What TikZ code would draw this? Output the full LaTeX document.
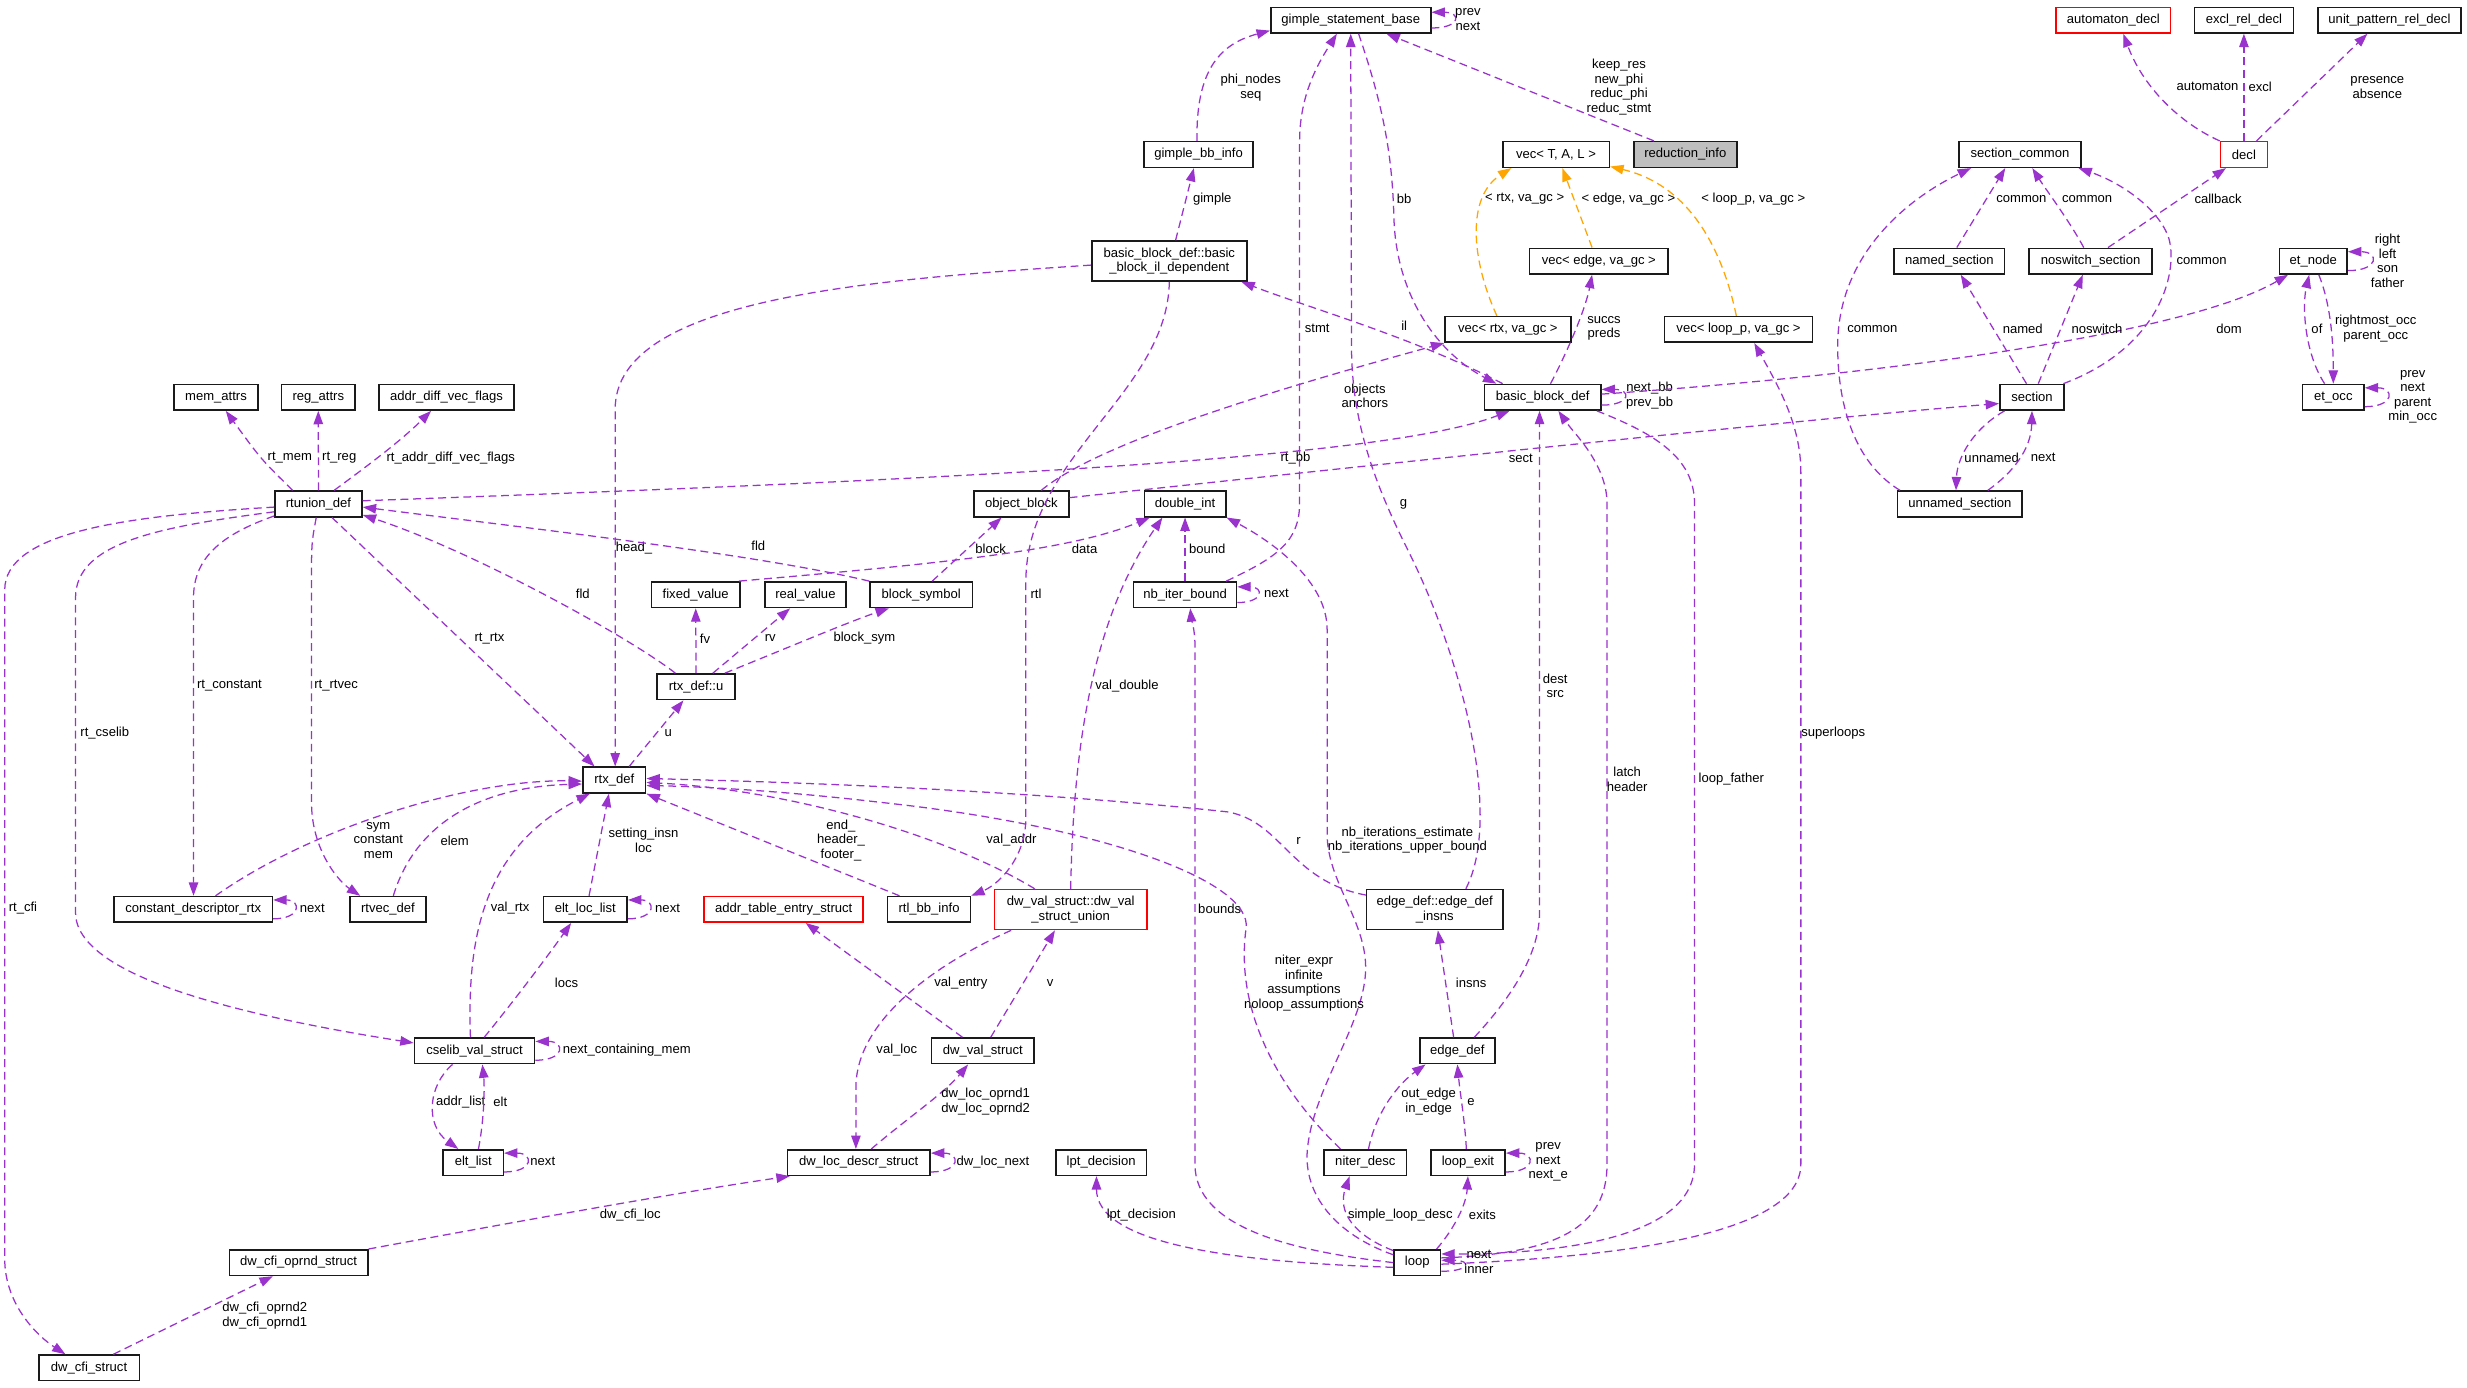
\documentclass[tikz,border=0pt]{standalone}
\usepackage{fontspec}
\setmainfont{Liberation Sans}
\usetikzlibrary{arrows.meta,calc}
\definecolor{epurple}{HTML}{9A32CD}
\definecolor{eorange}{HTML}{FFA500}
\definecolor{grayfill}{HTML}{BFBFBF}
\definecolor{boxedge}{HTML}{1A1A1A}
\begin{document}
\begin{tikzpicture}[x=1pt,y=-1pt,
 cls/.style={draw=boxedge,line width=1pt,fill=white,minimum height=16.3pt,inner sep=0pt,align=center,font=\fontsize{8.3}{9.3}\selectfont},
 cls2/.style={cls,minimum height=25.4pt},
 redbox/.style={draw=red},
 lab/.style={inner sep=0pt,align=center,font=\fontsize{8.3}{9.3}\selectfont},
 e/.style={draw=epurple,line width=0.8pt,dash pattern=on 5pt off 3pt,-{Triangle[length=8.5pt,width=6pt]}},
 eo/.style={e,draw=eorange},
]
\fill[white] (0,0) rectangle (1568,882);
\useasboundingbox (0,0) rectangle (1568,882);

% ---------- nodes ----------
\node[cls,minimum width=101.7pt] (gsb) at (858.5,12.8) {gimple\_statement\_base};
\node[cls,minimum width=69.4pt] (gbb) at (761.8,98.2) {gimple\_bb\_info};
\node[cls2,minimum width=98.6pt] (ild) at (743.2,165.9) {basic\_block\_def::basic\\\_block\_il\_dependent};
\node[cls,minimum width=67.8pt] (vecT) at (989,98.2) {vec< T, A, L >};
\node[cls,minimum width=65.3pt,fill=grayfill] (red) at (1071.2,98.2) {reduction\_info};
\node[cls,minimum width=87.9pt] (vecE) at (1016.2,166) {vec< edge, va\_gc >};
\node[cls,minimum width=79.9pt] (vecR) at (958.4,209.4) {vec< rtx, va\_gc >};
\node[cls,minimum width=94.2pt] (vecL) at (1105,209.4) {vec< loop\_p, va\_gc >};
\node[cls,minimum width=73.9pt] (bbd) at (980.5,252.5) {basic\_block\_def};
\node[cls,redbox,minimum width=72.9pt] (autd) at (1343.2,12.8) {automaton\_decl};
\node[cls,minimum width=62.8pt] (excl) at (1426.2,12.8) {excl\_rel\_decl};
\node[cls,minimum width=90.8pt] (unit) at (1518.7,12.8) {unit\_pattern\_rel\_decl};
\node[cls,minimum width=77.3pt] (secc) at (1283.9,98.2) {section\_common};
\node[cls,redbox,minimum width=29.8pt] (decl) at (1426.2,98.2) {decl};
\node[cls,minimum width=70.1pt] (nsec) at (1239,166) {named\_section};
\node[cls,minimum width=78.1pt] (nsw) at (1328.8,166) {noswitch\_section};
\node[cls,minimum width=43.1pt] (etn) at (1470.3,166) {et\_node};
\node[cls,minimum width=40.9pt] (sec) at (1291.5,252.5) {section};
\node[cls,minimum width=39.1pt] (eto) at (1483,252.5) {et\_occ};
\node[cls,minimum width=53.3pt] (mem) at (137.3,252.5) {mem\_attrs};
\node[cls,minimum width=46.8pt] (reg) at (202.3,252.5) {reg\_attrs};
\node[cls,minimum width=85.9pt] (adf) at (283.8,252.5) {addr\_diff\_vec\_flags};
\node[cls,minimum width=55.3pt] (rtu) at (202.4,320.3) {rtunion\_def};
\node[cls,minimum width=60.3pt] (objb) at (649.2,320.3) {object\_block};
\node[cls,minimum width=51.8pt] (dint) at (753.2,320.3) {double\_int};
\node[cls,minimum width=79.2pt] (unsec) at (1245.7,320.3) {unnamed\_section};
\node[cls,minimum width=56pt] (fixv) at (442.2,378) {fixed\_value};
\node[cls,minimum width=51.5pt] (realv) at (511.9,378) {real\_value};
\node[cls,minimum width=65.1pt] (bsym) at (585.5,378) {block\_symbol};
\node[cls,minimum width=65.4pt] (nbib) at (753.2,378) {nb\_iter\_bound};
\node[cls,minimum width=49.3pt] (rtxu) at (442.4,436.5) {rtx\_def::u};
\node[cls,minimum width=40pt] (rtx) at (390.4,495.8) {rtx\_def};
\node[cls,minimum width=100.7pt] (cdr) at (122.8,578) {constant\_descriptor\_rtx};
\node[cls,minimum width=48.3pt] (rtv) at (246.6,578) {rtvec\_def};
\node[cls,minimum width=53.3pt] (ell) at (372,578) {elt\_loc\_list};
\node[cls,redbox,minimum width=101pt] (ates) at (498.1,578) {addr\_table\_entry\_struct};
\node[cls,minimum width=52.6pt] (rtlbb) at (590.5,578) {rtl\_bb\_info};
\node[cls2,redbox,minimum width=96.7pt] (dvu) at (680.5,578.1) {dw\_val\_struct::dw\_val\\\_struct\_union};
\node[cls2,minimum width=86.5pt] (edi) at (911.9,578.1) {edge\_def::edge\_def\\\_insns};
\node[cls,minimum width=76.4pt] (csv) at (301.6,667.9) {cselib\_val\_struct};
\node[cls,minimum width=65.1pt] (dvs) at (624.7,667.9) {dw\_val\_struct};
\node[cls,minimum width=47.5pt] (edge) at (926.3,667.9) {edge\_def};
\node[cls,minimum width=38.2pt] (eltl) at (300.8,738.9) {elt\_list};
\node[cls,minimum width=90.7pt] (dlds) at (545.8,738.9) {dw\_loc\_descr\_struct};
\node[cls,minimum width=57.8pt] (lpt) at (699.9,738.9) {lpt\_decision};
\node[cls,minimum width=52.5pt] (nid) at (867.8,738.9) {niter\_desc};
\node[cls,minimum width=47.3pt] (lex) at (933,738.9) {loop\_exit};
\node[cls,minimum width=87.9pt] (cfio) at (189.8,802.5) {dw\_cfi\_oprnd\_struct};
\node[cls,minimum width=29.6pt] (loop) at (900.8,802.5) {loop};
\node[cls,minimum width=63.9pt] (cfis) at (56.6,869.4) {dw\_cfi\_struct};

% ---------- edges ----------
% top area
\draw[e] ($(gsb.east)+(0,5)$) .. controls +(19,0) and +(19,0) .. ($(gsb.east)+(0,-5)$);
\node[lab] (L1) at (933,12.4) {prev\\next};
\draw[e] ($(gbb.north)+(-1,0)$) .. controls (760,45) and (775,28) .. ($(gsb.south west)+(0,-2)$);
\node[lab] (L2) at (795,55.6) {phi\_nodes\\seq};
\draw[e] ($(ild.north)+(4,0)$) -- ($(gbb.south)+(-3,0)$);
\node[lab] (L3) at (770.5,126.5) {gimple};
\draw[e] ($(red.north)+(-20,0)$) -- ($(gsb.south)+(22.7,0)$);
\node[lab] (L4) at (1029,55.3) {keep\_res\\new\_phi\\reduc\_phi\\reduc\_stmt};
\draw[eo] ($(vecR.north)+(-7,0)$) .. controls (935,165) and (932,125) .. ($(vecT.south west)+(6,0)$);
\node[lab] (L5) at (969,126.5) {< rtx, va\_gc >};
\draw[eo] ($(vecE.north)+(-4.3,0)$) -- ($(vecT.south)+(4,0)$);
\node[lab] (L6) at (1035,126.5) {< edge, va\_gc >};
\draw[eo] ($(vecL.north)+(-1.4,0)$) .. controls (1095,160) and (1075,118) .. ($(vecT.south east)+(0,-1)$);
\node[lab] (L7) at (1114.4,126.5) {< loop\_p, va\_gc >};
\draw[e] ($(bbd.north)+(5,0)$) .. controls (998,220) and (1008,195) .. ($(vecE.south)+(-4.3,0)$);
\node[lab] (L8) at (1019.5,208.8) {succs\\preds};
\draw[e] ($(bbd.east)+(0,5)$) .. controls +(19,0) and +(19,0) .. ($(bbd.east)+(0,-5)$);
\node[lab] (L9) at (1048.5,251.6) {next\_bb\\prev\_bb};
\draw[e] ($(gsb.south)+(5,0)$) .. controls (880,70) and (885,100) .. (886,140) .. controls (888,190) and (915,225) .. ($(bbd.north west)+(8,0)$);
\node[lab] (L10) at (892.5,126.5) {bb};
\draw[e] ($(bbd.north west)+(12,0)$) .. controls (900,215) and (830,195) .. ($(ild.south east)+(-4,0)$);
\node[lab] (L11) at (892.5,207) {il};
\draw[e] ($(rtu.east)+(0,-2)$) .. controls (600,305) and (880,292) .. ($(bbd.south)+(-21,0)$);
\node[lab] (L12) at (823.4,291.4) {rt\_bb};
\draw[e] ($(objb.east)+(0,-4)$) .. controls (850,298) and (1150,266) .. ($(sec.west)+(0,4)$);
\node[lab] (L13) at (966.6,291.4) {sect};
\draw[e] ($(bbd.east)+(0,-2)$) .. controls (1200,238) and (1390,212) .. ($(etn.south west)+(6,0)$);
\node[lab] (L14) at (1416.7,209.1) {dom};

% right area
\draw[e] ($(unsec.north west)+(2,0)$) .. controls (1180,295) and (1168,260) .. (1168,220) .. controls (1168,160) and (1215,125) .. ($(secc.south west)+(8,0)$);
\node[lab] (L15) at (1190,209.1) {common};
\draw[e] ($(nsec.north)+(4.7,0)$) -- ($(secc.south)+(-9.4,0)$);
\node[lab] (L16) at (1284.8,126.5) {common};
\draw[e] ($(nsw.north)+(-4.4,0)$) .. controls (1315,140) and (1300,120) .. ($(secc.south)+(7.8,0)$);
\node[lab] (L17) at (1326.6,126.5) {common};
\draw[e] ($(sec.north east)+(-1,0)$) .. controls (1375,220) and (1385,170) .. (1378,150) .. controls (1370,130) and (1345,115) .. ($(secc.south east)+(-2,0)$);
\node[lab] (L18) at (1399.3,166) {common};
\draw[e] ($(nsw.north)+(11,0)$) -- ($(decl.south)+(-11.4,0)$);
\node[lab] (L19) at (1409.8,126.5) {callback};
\draw[e] (decl.north west) .. controls (1385,78) and (1362,55) .. ($(autd.south)+(6.3,0)$);
\node[lab] (L20) at (1403,55.1) {automaton};
\draw[e] (decl.north) -- (excl.south);
\node[lab] (L21) at (1436.5,55.1) {excl};
\draw[e] ($(decl.north)+(8,0)$) -- ($(unit.south)+(-14,0)$);
\node[lab] (L22) at (1511,55.6) {presence\\absence};
\draw[e] ($(sec.north)+(-3.5,0)$) -- ($(nsec.south)+(7.2,0)$);
\node[lab] (L23) at (1285.6,209.1) {named};
\draw[e] ($(sec.north)+(4,0)$) -- ($(nsw.south)+(-5,0)$);
\node[lab] (L24) at (1332.8,209.1) {noswitch};
\draw[e] ($(sec.south west)+(3.5,0)$) .. controls (1255,272) and (1244,290) .. ($(unsec.north)+(-2.5,0)$);
\node[lab] (L25) at (1265.9,290.9) {unnamed};
\draw[e] ($(unsec.north)+(17.7,0)$) .. controls (1280,300) and (1291,285) .. (sec.south);
\node[lab] (L26) at (1298.6,290.9) {next};
\draw[e] ($(etn.east)+(0,6)$) .. controls +(20,0) and +(20,0) .. ($(etn.east)+(0,-6)$);
\node[lab] (L27) at (1517.5,165.7) {right\\left\\son\\father};
\draw[e] ($(eto.north)+(-5.5,0)$) .. controls (1465,225) and (1463,195) .. ($(etn.south)+(-2.6,0)$);
\node[lab] (L28) at (1472.6,209.1) {of};
\draw[e] ($(etn.south)+(3.5,0)$) .. controls (1482,195) and (1483,220) .. (eto.north);
\node[lab] (L29) at (1510,208.8) {rightmost\_occ\\parent\_occ};
\draw[e] ($(eto.east)+(0,6)$) .. controls +(19,0) and +(19,0) .. ($(eto.east)+(0,-6)$);
\node[lab] (L30) at (1533.5,252.2) {prev\\next\\parent\\min\_occ};

% left area
\draw[e] ($(rtu.north)+(-16.4,0)$) .. controls (166,292) .. ($(mem.south)+(6.2,0)$);
\node[lab] (L31) at (184.2,290.9) {rt\_mem};
\draw[e] (rtu.north) -- (reg.south);
\node[lab] (L32) at (215.6,290.9) {rt\_reg};
\draw[e] ($(rtu.north)+(10,0)$) .. controls (235,295) and (255,280) .. ($(adf.south)+(-9.8,0)$);
\node[lab] (L33) at (286.5,290.9) {rt\_addr\_diff\_vec\_flags};
\draw[e] ($(rtu.south)+(8.6,0)$) -- ($(rtx.north west)+(8,0)$);
\node[lab] (L34) at (311.1,405.8) {rt\_rtx};
\draw[e] ($(rtu.south west)+(0,-1)$) .. controls (140,340) and (123,355) .. (123,380) -- ($(cdr.north)+(0.2,0)$);
\node[lab] (L35) at (145.8,435.9) {rt\_constant};
\draw[e] ($(rtu.south)+(-1.4,0)$) .. controls (198,345) .. (198,370) -- (198,510) .. controls (198,540) and (215,560) .. ($(rtv.north west)+(7,0)$);
\node[lab] (L36) at (213.6,435.9) {rt\_rtvec};
\draw[e] ($(rtu.west)+(0,5)$) .. controls (100,335) and (48,345) .. (48,380) -- (48,580) .. controls (48,620) and (150,645) .. ($(csv.west)+(0,-5)$);
\node[lab] (L37) at (66.6,465.8) {rt\_cselib};
\draw[e] ($(rtu.west)+(0,2)$) .. controls (80,328) and (3,338) .. (3,375) -- (3,800) .. controls (3,830) and (25,850) .. ($(cfis.north)+(-15,0)$);
\node[lab] (L38) at (14.6,577.4) {rt\_cfi};
\draw[e] ($(cdr.east)+(0,6)$) .. controls +(18,0) and +(18,0) .. ($(cdr.east)+(0,-6)$);
\node[lab] (L39) at (198.5,577.4) {next};
\draw[e] ($(cdr.north)+(14.2,0)$) .. controls (200,525) and (300,495) .. ($(rtx.west)+(0,0.7)$);
\node[lab] (L40) at (240.5,534.2) {sym\\constant\\mem};
\draw[e] ($(rtv.north)+(3.4,0)$) .. controls (265,520) and (310,500) .. ($(rtx.west)+(0,2.5)$);
\node[lab] (L41) at (289,534.4) {elem};
\draw[e] ($(csv.north)+(-2.6,0)$) .. controls (297,600) and (305,540) .. ($(rtx.south west)+(5,0)$);
\node[lab] (L42) at (324.2,577.4) {val\_rtx};
\draw[e] ($(ell.north)+(2.4,0)$) -- ($(rtx.south)+(-3.4,0)$);
\node[lab] (L43) at (409,534.2) {setting\_insn\\loc};
\draw[e] ($(ell.east)+(0,6)$) .. controls +(18,0) and +(18,0) .. ($(ell.east)+(0,-6)$);
\node[lab] (L44) at (424.3,577.4) {next};
\draw[e] ($(csv.north)+(6.2,0)$) .. controls (330,632) and (350,605) .. ($(ell.south)+(-9,0)$);
\node[lab] (L45) at (360.1,624.6) {locs};
\draw[e] ($(csv.east)+(0,6)$) .. controls +(19,0) and +(19,0) .. ($(csv.east)+(0,-6)$);
\node[lab] (L46) at (398.4,667.4) {next\_containing\_mem};
\draw[e] ($(csv.south)+(-14,0)$) .. controls (272,690) and (270,715) .. ($(eltl.north)+(-9.5,0)$);
\node[lab] (L47) at (292.8,700.2) {addr\_list};
\draw[e] ($(eltl.north)+(3.3,0)$) .. controls (308,710) and (308,690) .. ($(csv.south)+(5,0)$);
\node[lab] (L48) at (318,700.2) {elt};
\draw[e] ($(eltl.east)+(0,6)$) .. controls +(19,0) and +(19,0) .. ($(eltl.east)+(0,-6)$);
\node[lab] (L49) at (345,738.4) {next};
\draw[e] (cfio.north east) .. controls (320,778) and (430,758) .. ($(dlds.south west)+(2,0)$);
\node[lab] (L50) at (400.6,772.3) {dw\_cfi\_loc};
\draw[e] ($(cfis.north east)+(-17,0)$) -- ($(cfio.south)+(-16.4,0)$);
\node[lab] (L51) at (168.3,836) {dw\_cfi\_oprnd2\\dw\_cfi\_oprnd1};
\draw[e] ($(dlds.east)+(0,6)$) .. controls +(19,0) and +(19,0) .. ($(dlds.east)+(0,-6)$);
\node[lab] (L52) at (631.1,738.4) {dw\_loc\_next};
\draw[e] ($(dlds.north)+(8,0)$) .. controls (575,712) and (600,695) .. ($(dvs.south)+(-9.4,0)$);
\node[lab] (L53) at (626.5,700.2) {dw\_loc\_oprnd1\\dw\_loc\_oprnd2};
\draw[e] ($(dvu.south west)+(11,0)$) .. controls (590,615) and (545,650) .. (544,690) -- ($(dlds.north)+(-1.8,0)$);
\node[lab] (L54) at (570,667.4) {val\_loc};
\draw[e] ($(dvs.north)+(5,0)$) -- ($(dvu.south)+(-10,0)$);
\node[lab] (L55) at (667.5,624.6) {v};
\draw[e] ($(dvs.north)+(-13,0)$) -- ($(ates.south)+(14,0)$);
\node[lab] (L56) at (610.7,624.6) {val\_entry};
\draw[e] ($(dvu.north west)+(26,0)$) .. controls (600,530) and (500,502) .. ($(rtx.east)+(0,1.5)$);
\node[lab] (L57) at (642.9,534) {val\_addr};
\draw[e] ($(rtlbb.north west)+(8,0)$) -- (rtx.south east);
\node[lab] (L58) at (534.5,534.1) {end\_\\header\_\\footer\_};
\draw[e] ($(ild.west)+(0,2.6)$) .. controls (550,178) and (391,190) .. (391,260) -- ($(rtx.north)+(0.6,0)$);
\node[lab] (L59) at (402.9,348.6) {head\_};
\draw[e] (ild.south) .. controls (742,250) and (652,290) .. (652,370) -- (652,520) .. controls (652,545) and (635,562) .. (rtlbb.north east);
\node[lab] (L60) at (658.5,377.2) {rtl};
\draw[e] ($(objb.north)+(12.6,0)$) .. controls (700,280) and (820,245) .. (vecR.south west);
\node[lab] (L61) at (867.5,251.6) {objects\\anchors};

% middle area
\draw[e] ($(nbib.north east)+(-7,0)$) .. controls (810,355) and (826,345) .. (826,320) -- (826,90) .. controls (826,60) and (838,40) .. ($(gsb.south)+(-8.8,0)$);
\node[lab] (L62) at (837.2,208.7) {stmt};
\draw[e] ($(edi.north east)+(-24,0)$) .. controls (955,520) and (930,420) .. (895,350) .. controls (875,310) and (859,270) .. (859,220) -- (gsb.south);
\node[lab] (L63) at (892,320.6) {g};
\draw[e] ($(loop.west)+(0,-5)$) .. controls (850,785) and (828,760) .. (831,730) .. controls (835,690) and (868,650) .. (868,615) .. controls (868,585) and (843.5,560) .. (843.5,530) -- (843.5,400) .. controls (843.5,370) and (810,345) .. (dint.south east);
\node[lab] (L64) at (894.5,534) {nb\_iterations\_estimate\\nb\_iterations\_upper\_bound};
\draw[e] (loop.west) .. controls (820,795) and (759.5,780) .. (759.5,740) -- (759.5,410) .. controls (759.5,400) and (757,392) .. ($(nbib.south)+(3.3,0)$);
\node[lab] (L65) at (775.2,577.4) {bounds};
\draw[e] ($(loop.west)+(0,3)$) .. controls (780,802) and (697,790) .. ($(lpt.south)+(-3,0)$);
\node[lab] (L66) at (725.4,772.3) {lpt\_decision};
\draw[e] ($(loop.north west)+(0,1)$) .. controls (860,785) and (850,770) .. ($(nid.south)+(-10,0)$);
\node[lab] (L67) at (890,772.3) {simple\_loop\_desc};
\draw[e] ($(loop.north east)+(-3,0)$) .. controls (925,780) and (932,765) .. (lex.south);
\node[lab] (L68) at (942.2,772.3) {exits};
\draw[e] ($(lex.east)+(0,6)$) .. controls +(19,0) and +(19,0) .. ($(lex.east)+(0,-6)$);
\node[lab] (L69) at (984,738.5) {prev\\next\\next\_e};
\draw[e] ($(lex.north)+(-1,0)$) .. controls (931,712) and (928,695) .. (edge.south);
\node[lab] (L70) at (935,700.2) {e};
\draw[e] ($(nid.north)+(2,0)$) .. controls (875,705) and (890,688) .. ($(edge.south west)+(4,0)$);
\node[lab] (L71) at (908,700.2) {out\_edge\\in\_edge};
\draw[e] ($(edge.north)+(-2.4,0)$) -- ($(edi.south)+(2,0)$);
\node[lab] (L72) at (935,624.6) {insns};
\draw[e] ($(edge.north east)+(-13.5,0)$) .. controls (955,640) and (978.5,610) .. (978.5,580) -- ($(bbd.south)+(-2,0)$);
\node[lab] (L73) at (988.5,436) {dest\\src};
\draw[e] ($(loop.east)+(0,-3)$) .. controls (990,797) and (1021.4,780) .. (1021.4,740) -- (1021.4,320) .. controls (1021.4,295) and (1000,275) .. ($(bbd.south)+(10,0)$);
\node[lab] (L74) at (1034.2,495.4) {latch\\header};
\draw[e] ($(bbd.south east)+(-3,0)$) .. controls (1050,275) and (1077,290) .. (1077,320) -- (1077,740) .. controls (1077,790) and (980,797) .. ($(loop.east)+(0,-5.5)$);
\node[lab] (L75) at (1100.4,495.4) {loop\_father};
\draw[e] ($(loop.east)+(0,1)$) .. controls (1000,800) and (1144.6,790) .. (1144.6,740) -- (1144.6,300) .. controls (1144.6,270) and (1130,245) .. ($(vecL.south)+(10,0)$);
\node[lab] (L76) at (1165.2,465.7) {superloops};
\draw[e] ($(loop.east)+(0,5.5)$) .. controls +(19,0) and +(19,0) .. ($(loop.east)+(0,-1.5)$);
\node[lab] (L77) at (940,802) {next\\inner};
\draw[e] ($(nbib.east)+(0,5)$) .. controls +(17,0) and +(17,0) .. ($(nbib.east)+(0,-5)$);
\node[lab] (L78) at (811.3,377.2) {next};
\draw[e] (nbib.north) -- (dint.south);
\node[lab] (L79) at (767.3,348.6) {bound};
\draw[e] ($(fixv.north east)+(-1,0)$) .. controls (600,358) and (680,350) .. ($(dint.south west)+(4,0)$);
\node[lab] (L80) at (689.4,348.6) {data};
\draw[e] ($(bsym.north)+(7,0)$) -- ($(objb.south)+(-12.6,0)$);
\node[lab] (L81) at (629.6,348.6) {block};
\draw[e] (bsym.north west) .. controls (480,352) and (330,335) .. ($(rtu.east)+(0,2)$);
\node[lab] (L82) at (482,347) {fld};
\draw[e] ($(rtxu.north west)+(12,0)$) .. controls (400,405) and (300,350) .. ($(rtu.east)+(0,7)$);
\node[lab] (L83) at (370.4,377.2) {fld};
\draw[e] ($(rtx.north east)+(-11,0)$) -- ($(rtxu.south)+(-8,0)$);
\node[lab] (L84) at (424.8,466.2) {u};
\draw[e] (rtxu.north) -- (fixv.south);
\node[lab] (L85) at (448.1,405.8) {fv};
\draw[e] ($(rtxu.north)+(10.7,0)$) -- ($(realv.south)+(-9.7,0)$);
\node[lab] (L86) at (489.6,405.8) {rv};
\draw[e] ($(rtxu.north)+(18.3,0)$) .. controls (500,412) and (540,395) .. ($(bsym.south)+(-20.5,0)$);
\node[lab] (L87) at (549.4,405.8) {block\_sym};
\draw[e] ($(edi.north west)+(0,4)$) .. controls (820,560) and (815,522) .. (780,516) .. controls (650,502) and (500,497) .. ($(rtx.east)+(0,-1)$);
\node[lab] (L88) at (825.4,534.6) {r};
\draw[e] ($(nid.north)+(-15.8,0)$) .. controls (810,690) and (785,640) .. (792,590) .. controls (796,560) and (700,525) .. (560,510) .. controls (500,503) and (450,500) .. ($(rtx.east)+(0,3.5)$);
\node[lab] (L89) at (828.8,624.8) {niter\_expr\\infinite\\assumptions\\noloop\_assumptions};
\draw[e] (dvu.north) .. controls (682,490) and (690,400) .. ($(dint.south west)+(12,0)$);
\node[lab] (L90) at (716.3,435.9) {val\_double};
\end{tikzpicture}
\end{document}
